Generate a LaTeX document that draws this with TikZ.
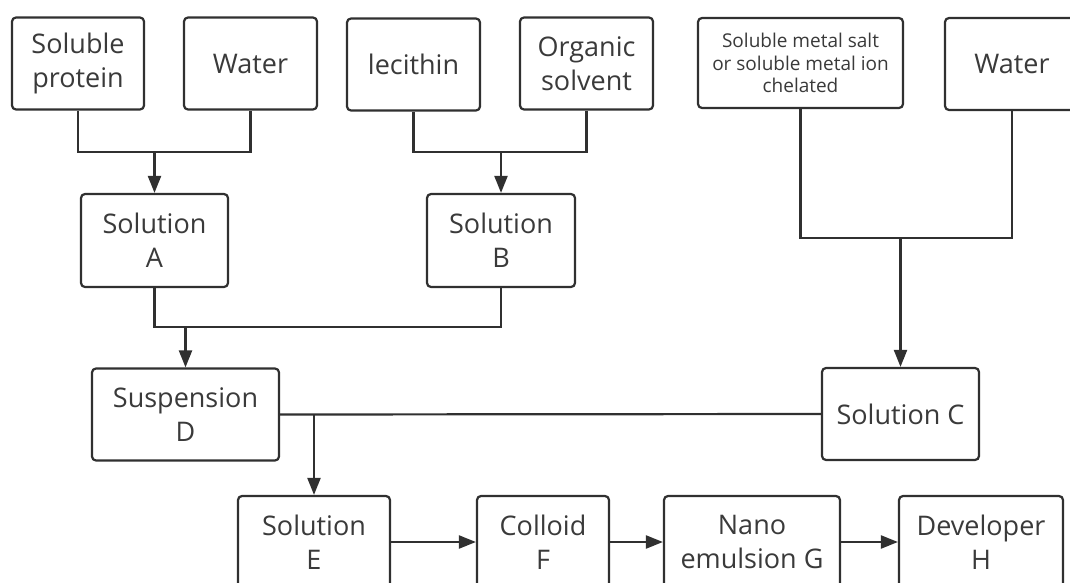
\documentclass[tikz,border=0pt]{standalone}
\usepackage{fontspec}
\setmainfont{Open Sans}
\usetikzlibrary{arrows.meta}
\definecolor{ln}{HTML}{303030}
\definecolor{tx}{HTML}{3a3a3a}
\tikzset{
  box/.style={draw=ln, line width=2.2pt, rounded corners=4pt, fill=white, text=tx,
    align=center, inner sep=0pt, minimum height=92pt,
    font=\fontsize{27}{34}\selectfont},
  smallbox/.style={box, font=\fontsize{19}{22.5}\selectfont},
  conn/.style={draw=ln, line width=2.2pt},
  arr/.style={conn, -{Triangle[length=17pt,width=13pt]}}
}
\begin{document}
\begin{tikzpicture}[x=1pt,y=-1pt]
\useasboundingbox (0,0) rectangle (1070,583);
\clip (0,0) rectangle (1070,583);
% top row
\node[box, minimum width=132pt] (P) at (78,63.5) {Soluble\\protein};
\node[box, minimum width=133pt] (W1) at (250.5,63.5) {Water};
\node[box, minimum width=133pt] (L) at (413.5,64.5) {lecithin};
\node[box, minimum width=133pt] (O) at (586.5,63.5) {Organic\\solvent};
\node[smallbox, minimum width=205pt, minimum height=90pt] (M) at (800.5,63) {Soluble metal salt\\or soluble metal ion\\chelated};
\node[box, minimum width=134pt] (W2) at (1012,64) {Water};
% second row
\node[box, minimum width=147pt, minimum height=93pt] (A) at (154.5,240.5) {Solution\\A};
\node[box, minimum width=148pt, minimum height=93pt] (B) at (501,240.5) {Solution\\B};
% third row
\node[box, minimum width=187pt] (D) at (185.5,414.5) {Suspension\\D};
\node[box, minimum width=157pt] (C) at (900.5,414) {Solution C};
% bottom row
\node[box, minimum width=152pt] (E) at (314,542) {Solution\\E};
\node[box, minimum width=132pt] (F) at (543,542) {Colloid\\F};
\node[box, minimum width=176pt] (G) at (752,542) {Nano\\emulsion G};
\node[box, minimum width=164pt] (H) at (981,542) {Developer\\H};
% junctions
\coordinate (j1) at (A.north |- 0,152);
\coordinate (j2) at (B.north |- 0,152);
\coordinate (j3) at (D.north |- 0,327);
\coordinate (j4) at (C.north |- 0,238);
\coordinate (j5) at (E.north |- D.east);
% connectors
\draw[conn] (P.south) |- (j1) -| (W1.south);
\draw[arr] (j1) -- (A.north);
\draw[conn] (L.south) |- (j2) -| (O.south);
\draw[arr] (j2) -- (B.north);
\draw[conn] (A.south) |- (j3) -| (B.south);
\draw[arr] (j3) -- (D.north);
\draw[conn] (M.south) |- (j4) -| (W2.south);
\draw[arr] (j4) -- (C.north);
\draw[conn] (D.east) -- (C.west);
\draw[arr] (j5) -- (E.north);
\draw[arr] (E.east) -- (F.west);
\draw[arr] (F.east) -- (G.west);
\draw[arr] (G.east) -- (H.west);
\end{tikzpicture}
\end{document}
